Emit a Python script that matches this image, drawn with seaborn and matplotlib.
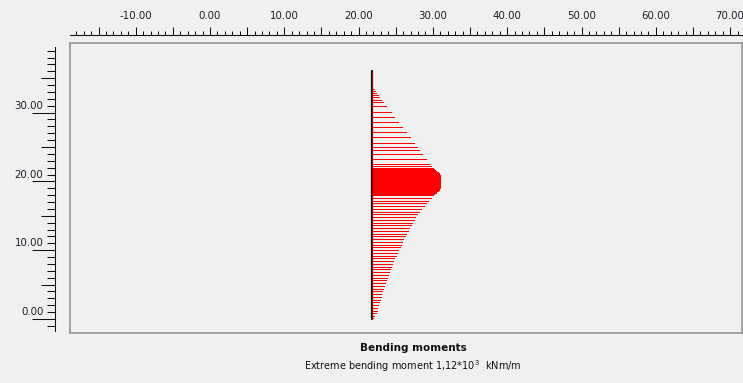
import matplotlib
matplotlib.use("Agg")
import matplotlib.pyplot as plt
import matplotlib.transforms as mtransforms
from matplotlib.ticker import MultipleLocator, FixedLocator, FuncFormatter, NullFormatter
import pandas as pd
import seaborn as sns

# ---- data -------------------------------------------------------------
pile_x = 21.8          # pile axis position [m]
pile_top = 36.0        # pile head level [m]
pile_bottom = 0.0      # pile toe level [m]

# bending moment along the pile [kNm/m]
depth_upper = [33.7, 33.4, 33.2, 32.9, 32.6, 32.3, 31.9, 31.5, 30.9, 30.1, 29.4, 28.6,
               27.9, 27.2, 26.4, 25.6, 25.0, 24.6, 24.0, 23.3, 22.6, 22.2, 21.9]
moment_upper = [5, 26, 43, 68, 94, 120, 154, 188, 239, 308, 368, 436,
                496, 556, 624, 693, 744, 778, 829, 889, 945, 975, 1000]

depth_peak = [21.78, 21.66, 21.54, 21.42, 21.30, 21.18, 21.06, 20.94, 20.82, 20.70, 20.58,
              20.46, 20.34, 20.22, 20.10, 19.98, 19.86, 19.74, 19.62, 19.50, 19.38, 19.26,
              19.14, 19.02, 18.90, 18.78, 18.66, 18.54, 18.42, 18.30, 18.18]
moment_peak = [1020, 1037, 1055, 1072, 1087, 1100, 1110, 1117, 1120, 1120, 1120,
               1120, 1120, 1120, 1120, 1120, 1120, 1120, 1120, 1120, 1120, 1120,
               1120, 1118, 1110, 1097, 1085, 1073, 1062, 1050, 1030]

depth_lower = [18.0, 17.6, 17.2, 16.8, 16.4, 16.0, 15.6, 15.2, 14.8, 14.4, 14.0, 13.6,
               13.2, 12.8, 12.4, 12.0, 11.6, 11.2, 10.8, 10.4, 10.0, 9.6, 9.2, 8.8,
               8.4, 8.0, 7.6, 7.2, 6.8, 6.4, 6.0, 5.6, 5.2, 4.8, 4.4, 4.0, 3.6, 3.2,
               2.8, 2.4, 2.0, 1.6, 1.2, 0.8, 0.4, 0.2]
moment_lower = [1005, 970, 930, 890, 850, 805, 775, 745, 715, 690, 665, 640,
                615, 590, 565, 540, 515, 495, 475, 455, 430, 410, 390, 370,
                352, 334, 317, 300, 283, 267, 251, 235, 218, 201, 185, 170, 155, 141,
                129, 117, 104, 91, 77, 60, 36, 15]

x_label_values = [-10, 0, 10, 20, 30, 40, 50, 60, 70]
y_label_values = [0, 10, 20, 30]

title = "Bending moments"
unit = "kNm/m"

# ---- styling ----------------------------------------------------------
BG = "#f0f0f0"
RED = "#ff0000"
INK = "#1e1e2a"
TICK = "#111111"
sns.set_theme(style="white", rc={"figure.facecolor": BG, "axes.facecolor": BG,
                                 "savefig.facecolor": BG})
plt.rcParams["font.family"] = ["DejaVu Sans"]

W, H = 743, 383
fig = plt.figure(figsize=(W / 100, H / 100), dpi=100)


def px_axes(x0, y0, x1, y1):
    return fig.add_axes([x0 / W, 1 - y1 / H, (x1 - x0) / W, (y1 - y0) / H])


# pixel geometry of the drawing window
X0_PX, X_PX_PER_M = 210.0, 7.43
Y0_PX, Y_PX_PER_M = 319.0, 6.88


def xlim_for(a, b):
    return ((a - X0_PX) / X_PX_PER_M, (b - X0_PX) / X_PX_PER_M)


def ylim_for(top, bottom):
    return ((Y0_PX - bottom) / Y_PX_PER_M, (Y0_PX - top) / Y_PX_PER_M)


BOX = (70, 43, 742, 333)
ax = px_axes(*BOX)
ax.set_xlim(*xlim_for(BOX[0], BOX[2]))
ax.set_ylim(*ylim_for(BOX[1], BOX[3]))
ax.set_xticks([])
ax.set_yticks([])
for s in ax.spines.values():
    s.set_color("#9c9c9c")
    s.set_linewidth(1.3)

# moment diagram: crisp one-pixel hatch lines from the pile axis
MOMENT_SCALE = 9.15 / 1120.0   # drawing metres per kNm/m
depth = pd.Series(depth_upper + depth_peak + depth_lower)
moment = pd.Series(moment_upper + moment_peak + moment_lower)
ax.hlines(depth, pile_x, pile_x + moment * MOMENT_SCALE, colors=RED, lw=0.5,
          antialiased=False)

# pile
pile = pd.DataFrame({"x": [pile_x, pile_x], "level": [pile_bottom, pile_top]})
sns.lineplot(data=pile, x="x", y="level", orient="y", estimator=None, sort=False,
             color="#111111", lw=1.6, ax=ax)
ax.vlines(pile_x + 0.07, pile_bottom, pile_top, colors="#b00000", lw=0.7)
ax.set_xlabel("")
ax.set_ylabel("")
ax.set_xlim(*xlim_for(BOX[0], BOX[2]))
ax.set_ylim(*ylim_for(BOX[1], BOX[3]))

# ---- top ruler ----------------------------------------------------------
axt = fig.add_axes([BOX[0] / W, 1 - 35 / H, (BOX[2] - BOX[0]) / W, 1e-5])
axt.set_xlim(*xlim_for(BOX[0], BOX[2]))
axt.set_ylim(0, 1)
axt.patch.set_visible(False)
for k, s in axt.spines.items():
    s.set_visible(k == "top")
axt.spines["top"].set_color(TICK)
axt.spines["top"].set_linewidth(0.75)
axt.set_yticks([])
axt.xaxis.tick_top()
axt.xaxis.set_major_locator(MultipleLocator(5))
axt.xaxis.set_minor_locator(MultipleLocator(1))


def top_fmt(v, _):
    return f"{v:.2f}" if any(abs(v - t) < 1e-6 for t in x_label_values) else ""


axt.xaxis.set_major_formatter(FuncFormatter(top_fmt))
axt.tick_params(axis="x", which="both", top=True, bottom=False)
axt.tick_params(axis="x", which="major", direction="out", length=5.8, width=0.75,
                color=TICK, labelsize=7.4, labelcolor=INK, pad=4.5)
axt.tick_params(axis="x", which="minor", direction="out", length=2.9, width=0.75,
                color=TICK)

# ---- left ruler ---------------------------------------------------------
LR = (55, 47, 55, 331)
lr_lim = ylim_for(LR[1], LR[3])
axl = fig.add_axes([LR[0] / W, 1 - LR[3] / H, 1e-5, (LR[3] - LR[1]) / H])
axl.set_ylim(*lr_lim)
axl.patch.set_visible(False)
for k, s in axl.spines.items():
    s.set_visible(k == "left")
axl.spines["left"].set_color(TICK)
axl.spines["left"].set_linewidth(0.75)
axl.set_xticks([])
axl.yaxis.set_major_locator(MultipleLocator(10))
axl.yaxis.set_minor_locator(MultipleLocator(1))
axl.yaxis.set_major_formatter(NullFormatter())
axl.tick_params(axis="y", which="both", left=True, right=False)
axl.tick_params(axis="y", which="major", direction="out", length=16.5, width=0.75,
                color=TICK)
axl.tick_params(axis="y", which="minor", direction="out", length=5.8, width=0.75,
                color=TICK)

axm = fig.add_axes([LR[0] / W, 1 - LR[3] / H, 1e-5, (LR[3] - LR[1]) / H])
axm.set_ylim(*lr_lim)
axm.patch.set_visible(False)
for s in axm.spines.values():
    s.set_visible(False)
axm.set_xticks([])
axm.yaxis.set_major_locator(FixedLocator([5, 15, 25, 35]))
axm.yaxis.set_major_formatter(NullFormatter())
axm.tick_params(axis="y", which="major", left=True, direction="out", length=10.0,
                width=0.75, color=TICK)

lab_tr = (mtransforms.blended_transform_factory(fig.transFigure, axl.transData)
          + mtransforms.ScaledTranslation(0, 0.067, fig.dpi_scale_trans))
for v in y_label_values:
    fig.text(43.5 / W, v, f"{v:.2f}", transform=lab_tr, ha="right", va="center",
             fontsize=7.4, color=INK)

# ---- captions -----------------------------------------------------------
m_max = float(moment.abs().max())
exp = 0
while m_max >= 10 ** (exp + 1):
    exp += 1
mant = f"{m_max / 10 ** exp:.2f}".replace(".", ",")
fig.text(413 / W, 1 - 348 / H, title, ha="center", va="center",
         fontsize=7.5, fontweight="bold", color="#111111")
fig.text(413 / W, 1 - 366 / H,
         f"Extreme bending moment {mant}*10$^{{{exp}}}$  {unit}",
         ha="center", va="center", fontsize=7.0, color="#111111")

fig.savefig("out.png", dpi=100, facecolor=BG)
